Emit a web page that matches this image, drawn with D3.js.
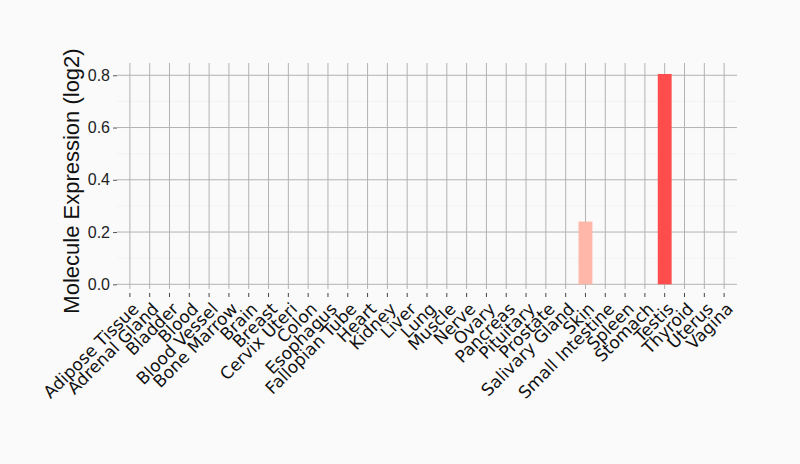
<!DOCTYPE html>
<html>
<head>
<meta charset="utf-8">
<script src="https://cdn.jsdelivr.net/npm/d3@7/dist/d3.min.js"></script>
<style>
  body { margin: 0; background: #fafafa; }
  svg { display: block; }
</style>
</head>
<body>
<div class="graph-view"></div>
<script>
const tissues = ['Adipose Tissue', 'Adrenal Gland', 'Bladder', 'Blood', 'Blood Vessel', 'Bone Marrow',
  'Brain', 'Breast', 'Cervix Uteri', 'Colon', 'Esophagus', 'Fallopian Tube', 'Heart', 'Kidney',
  'Liver', 'Lung', 'Muscle', 'Nerve', 'Ovary', 'Pancreas', 'Pituitary', 'Prostate', 'Salivary Gland',
  'Skin', 'Small Intestine', 'Spleen', 'Stomach', 'Testis', 'Thyroid', 'Uterus', 'Vagina'];
const expression = [0, 0, 0, 0, 0, 0, 0, 0, 0, 0, 0, 0, 0, 0, 0, 0, 0, 0, 0, 0, 0, 0, 0,
  0.24, 0, 0, 0, 0.805, 0, 0, 0];
const yTicks = [0, 0.2, 0.4, 0.6, 0.8];
const yMinorTicks = [0.1, 0.3, 0.5, 0.7];

const w = 800, h = 464;
const plotLeft = 117, plotRight = 737, plotTop = 63, plotBottom = 289;

const svg = d3.select('.graph-view').append('svg')
  .attr('width', w)
  .attr('height', h)
  .style('background', '#fafafa');

const xScale = d3.scaleBand()
  .domain(tissues)
  .range([plotLeft, plotRight])
  .padding(0.3);

const yScale = d3.scaleLinear()
  .domain([-0.018, 0.847])
  .range([plotBottom, plotTop]);

// minor grid
svg.append('g').selectAll('line')
  .data(yMinorTicks)
  .enter().append('line')
    .attr('x1', plotLeft).attr('x2', plotRight)
    .attr('y1', d => yScale(d)).attr('y2', d => yScale(d))
    .attr('stroke', '#f3f3f3');

// vertical grid
svg.append('g').selectAll('line')
  .data(tissues)
  .enter().append('line')
    .attr('x1', d => xScale(d) + xScale.bandwidth() / 2)
    .attr('x2', d => xScale(d) + xScale.bandwidth() / 2)
    .attr('y1', plotTop).attr('y2', plotBottom)
    .attr('stroke', '#b3b3b3');

// horizontal grid
svg.append('g').selectAll('line')
  .data(yTicks)
  .enter().append('line')
    .attr('x1', plotLeft).attr('x2', plotRight)
    .attr('y1', d => yScale(d)).attr('y2', d => yScale(d))
    .attr('stroke', '#b3b3b3');

// bars
const maxVal = d3.max(expression);
svg.append('g').selectAll('rect')
  .data(tissues)
  .enter().append('rect')
    .attr('x', d => xScale(d))
    .attr('width', xScale.bandwidth())
    .attr('y', (d, i) => yScale(expression[i]))
    .attr('height', (d, i) => yScale(0) - yScale(expression[i]))
    .attr('fill', (d, i) => expression[i] >= maxVal ? '#ff4d4d' : '#ffb7aa');

// y axis
const yAxis = svg.append('g')
  .attr('transform', 'translate(' + plotLeft + ',0)')
  .call(d3.axisLeft(yScale).tickValues(yTicks).tickFormat(d3.format('.1f')).tickSize(4).tickPadding(3));
yAxis.select('.domain').remove();
yAxis.selectAll('line').attr('stroke', '#555');
yAxis.selectAll('text')
  .attr('font-family', 'Liberation Sans, Arial, sans-serif')
  .attr('font-size', 16)
  .attr('fill', '#222');

// x axis
const xAxis = svg.append('g')
  .attr('transform', 'translate(0,' + (plotBottom + 4) + ')')
  .call(d3.axisBottom(xScale).tickSize(4).tickSizeOuter(0));
xAxis.select('.domain').remove();
xAxis.selectAll('line').attr('stroke', '#444');
xAxis.selectAll('text')
  .attr('font-family', 'DejaVu Sans, sans-serif')
  .attr('font-size', 17)
  .attr('fill', '#111')
  .attr('text-anchor', 'end')
  .attr('x', 0).attr('y', 0).attr('dy', 0)
  .attr('transform', 'translate(10,17) rotate(-45)');

// y title
svg.append('text')
  .attr('transform', 'translate(79,181) rotate(-90)')
  .attr('text-anchor', 'middle')
  .attr('font-family', 'Liberation Sans, Arial, sans-serif')
  .attr('font-size', 22)
  .attr('fill', '#111')
  .text('Molecule Expression (log2)');
</script>
</body>
</html>
